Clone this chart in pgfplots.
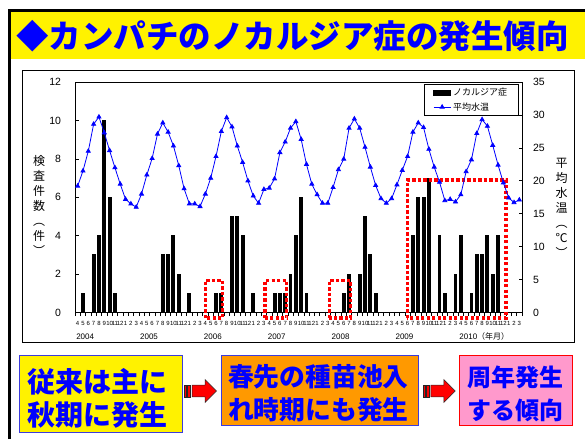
\documentclass[border=0pt]{standalone}
\usepackage{fontspec}
\setmainfont{Liberation Sans}
\newfontfamily\cjk{Noto Sans CJK JP}
\usepackage{pgfplots}
\pgfplotsset{compat=1.18}
\definecolor{orng}{RGB}{255,153,0}
\definecolor{pnk}{RGB}{255,153,204}
\definecolor{tblue}{RGB}{0,0,255}
\definecolor{bdblue}{RGB}{60,60,220}

\begin{document}
\begin{tikzpicture}
\begin{scope}[x=1pt,y=1pt]
\path[use as bounding box] (0,0) rectangle (585,439);
% title band
\fill[yellow] (11,380) rectangle (585,426.5);
\draw[line width=3pt] (9.5,0) -- (9.5,428) -- (586,428);
\node[anchor=base west, inner sep=0, text=tblue, font=\cjk\bfseries\fontsize{32.5}{34}\selectfont] at (16,390.6) {◆カンパチのノカルジア症の発生傾向};
% chart frame
\draw[line width=0.8pt] (22,97) rectangle (574,369);
\end{scope}

\begin{axis}[at={(75pt,126.5pt)}, anchor=south west, width=447pt, height=230.5pt, scale only axis,
  xmin=-0.5, xmax=83.5, ymin=0, ymax=12,
  ytick={0,2,...,12}, xtick={0,...,83},
  xticklabels={4,5,6,7,8,9,10,11,12,1,2,3,4,5,6,7,8,9,10,11,12,1,2,3,4,5,6,7,8,9,10,11,12,1,2,3,4,5,6,7,8,9,10,11,12,1,2,3,4,5,6,7,8,9,10,11,12,1,2,3,4,5,6,7,8,9,10,11,12,1,2,3,4,5,6,7,8,9,10,11,12,1,2,3},
  major tick length=0pt, minor tick length=3.5pt,
  minor xtick={-0.5,0.5,...,83.5}, minor ytick={0,2,...,12},
  tick align=inside, xtick pos=left, ytick pos=left,
  axis line style={line width=0.8pt},
  every tick/.style={black, line width=0.6pt},
  x tick label style={font=\fontsize{6}{6}\selectfont, yshift=-5pt},
  y tick label style={font=\fontsize{10.5}{12}\selectfont, xshift=-10.5pt},
  /pgf/number format/assume math mode=true,
  ybar, bar width=2.9pt, clip=false]
\addplot[fill=black, draw=black, line width=0pt] coordinates {
 (1,1) (3,3) (4,4) (5,10) (6,6) (7,1)
 (16,3) (17,3) (18,4) (19,2) (21,1)
 (26,1) (27,1) (29,5) (30,5) (31,4) (33,1)
 (37,1) (38,1) (39,1) (40,2) (41,4) (42,6) (43,1)
 (50,1) (51,2) (53,2) (54,5) (55,3) (56,1)
 (63,4) (64,6) (65,6) (66,7) (68,4) (69,1) (71,2) (72,4) (74,1) (75,3) (76,3) (77,4) (78,2) (79,4)};
% red dotted annotation boxes
\draw[red, line width=3.3pt, dash pattern=on 3.3pt off 2.2pt] (axis cs:24.0,-0.29) rectangle (axis cs:27.26,1.66);
\draw[red, line width=3.3pt, dash pattern=on 3.3pt off 2.2pt] (axis cs:35.2,-0.29) rectangle (axis cs:39.28,1.66);
\draw[red, line width=3.3pt, dash pattern=on 3.3pt off 2.2pt] (axis cs:47.29,-0.29) rectangle (axis cs:51.31,1.66);
\draw[red, line width=3.3pt, dash pattern=on 3.3pt off 2.2pt] (axis cs:61.95,-0.29) rectangle (axis cs:80.49,6.9);
% year labels
\node[anchor=base west, inner sep=0, font=\fontsize{8}{8}\selectfont] at (axis cs:-0.3,-1.41) {2004};
\node[anchor=base west, inner sep=0, font=\fontsize{8}{8}\selectfont] at (axis cs:11.7,-1.41) {2005};
\node[anchor=base west, inner sep=0, font=\fontsize{8}{8}\selectfont] at (axis cs:23.7,-1.41) {2006};
\node[anchor=base west, inner sep=0, font=\fontsize{8}{8}\selectfont] at (axis cs:35.7,-1.41) {2007};
\node[anchor=base west, inner sep=0, font=\fontsize{8}{8}\selectfont] at (axis cs:47.7,-1.41) {2008};
\node[anchor=base west, inner sep=0, font=\fontsize{8}{8}\selectfont] at (axis cs:59.7,-1.41) {2009};
\node[anchor=base west, inner sep=0, font=\fontsize{8}{8}\selectfont] at (axis cs:71.7,-1.41) {2010{\cjk （年月）}};
\end{axis}

\begin{axis}[at={(75pt,126.5pt)}, anchor=south west, width=447pt, height=230.5pt, scale only axis,
  xmin=-0.5, xmax=83.5, ymin=0, ymax=35,
  ytick={0,5,...,35}, axis y line*=right, axis x line=none,
  tick align=inside, ytick pos=right, major tick length=3.5pt,
  axis line style={line width=0.8pt},
  every tick/.style={black, line width=0.6pt},
  y tick label style={font=\fontsize{10.5}{12}\selectfont, xshift=7.5pt},
  /pgf/number format/assume math mode=true,
  legend style={at={(0.992,0.991)}, anchor=north east, draw=black, line width=0.7pt,
    font=\cjk\fontsize{9}{10}\selectfont, inner xsep=9pt, inner ysep=2pt, row sep=1pt,
    cells={anchor=west}},
  clip=false]
\addlegendimage{area legend, fill=black, draw=black}
\addlegendentry{ノカルジア症}
\addplot[tblue, line width=0.8pt, mark=triangle*, mark size=2.3pt, mark options={fill=tblue, draw=tblue}] coordinates {
 (0,19.2) (1,21.5) (2,24.5) (3,28.6) (4,29.7) (5,27.3) (6,24.6) (7,22.0) (8,19.5) (9,17.2) (10,16.5) (11,16.0)
 (12,18.0) (13,20.9) (14,23.4) (15,27.1) (16,28.8) (17,27.4) (18,25.3) (19,22.3) (20,18.8) (21,16.5) (22,16.5) (23,16.1)
 (24,18.0) (25,20.4) (26,23.7) (27,27.5) (28,29.6) (29,28.2) (30,25.3) (31,22.8) (32,20.0) (33,17.7) (34,16.6) (35,18.7)
 (36,18.9) (37,20.3) (38,24.3) (39,25.9) (40,28.0) (41,29.0) (42,26.3) (43,22.5) (44,19.5) (45,17.9) (46,16.6) (47,16.6)
 (48,19.0) (49,21.7) (50,23.3) (51,28.0) (52,29.4) (53,28.0) (54,25.1) (55,22.1) (56,19.3) (57,17.3) (58,16.6) (59,17.3)
 (60,19.4) (61,21.6) (62,23.7) (63,27.4) (64,28.8) (65,28.1) (66,24.8) (67,22.1) (68,19.8) (69,17.0) (70,17.2) (71,16.8)
 (72,17.9) (73,21.4) (74,23.2) (75,27.2) (76,29.3) (77,28.3) (78,25.4) (79,22.4) (80,19.7) (81,17.4) (82,16.7) (83,17.1)};
\addlegendentry{平均水温}
\end{axis}

\begin{scope}[x=1pt,y=1pt]
% axis titles (vertical)
\node[font=\cjk\fontsize{12}{15}\selectfont, align=center, inner sep=0] at (39,234) {検\\査\\件\\数\\︵\\件\\︶};
\node[font=\cjk\fontsize{12}{15}\selectfont, align=center, inner sep=0] at (561.7,231) {平\\均\\水\\温\\︵\\℃\\︶};

% bottom boxes
\filldraw[fill=yellow, draw=bdblue, line width=0.8pt] (19.4,7) rectangle (182,84);
\node[anchor=base, inner sep=0, text=tblue, font=\cjk\bfseries\fontsize{28}{30}\selectfont] at (97,46.4) {従来は主に};
\node[anchor=base, inner sep=0, text=tblue, font=\cjk\bfseries\fontsize{28}{30}\selectfont] at (97,13.4) {秋期に発生};

\filldraw[fill=orng, draw=bdblue, line width=0.8pt] (221,14) rectangle (418.7,84);
\node[anchor=base, inner sep=0, text=tblue, font=\cjk\bfseries\fontsize{25.8}{28}\selectfont] at (318.3,52.2) {春先の種苗池入};
\node[anchor=base, inner sep=0, text=tblue, font=\cjk\bfseries\fontsize{25.8}{28}\selectfont] at (318.3,19.7) {れ時期にも発生};

\filldraw[fill=pnk, draw=red, line width=0.8pt] (459,14) rectangle (572.8,84);
\node[anchor=base, inner sep=0, text=tblue, font=\cjk\bfseries\fontsize{24}{26}\selectfont] at (515.7,52.9) {周年発生};
\node[anchor=base, inner sep=0, text=tblue, font=\cjk\bfseries\fontsize{24}{26}\selectfont] at (515.7,19.9) {する傾向};

% striped arrows
\foreach \dx in {0,238.8}{
\begin{scope}[xshift=\dx pt]
\filldraw[fill=red, draw=black!85, line width=0.5pt] (184,42.2) rectangle (186,53.8);
\filldraw[fill=red, draw=black!85, line width=0.5pt] (187.5,42.2) rectangle (190.5,53.8);
\filldraw[fill=red, draw=black!85, line width=0.5pt] (192,42.2) -- (205,42.2) -- (205,36.5) -- (216.4,48) -- (205,59.5) -- (205,53.8) -- (192,53.8) -- cycle;
\end{scope}
}
\end{scope}
\end{tikzpicture}
\end{document}
